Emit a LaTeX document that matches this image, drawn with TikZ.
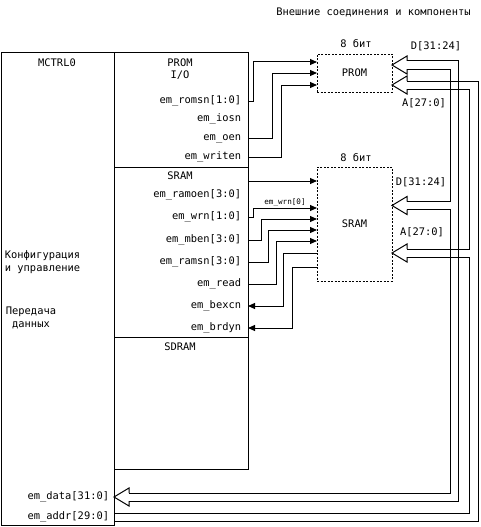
\documentclass[tikz,border=0pt]{standalone}
\usepackage{fontspec}
\setmonofont{DejaVu Sans Mono}
\usetikzlibrary{arrows.meta, calc}

\newcommand{\sigfont}{\fontsize{10.4}{12.5}\selectfont\ttfamily}
\newcommand{\tinyfont}{\fontsize{7.6}{9}\selectfont\ttfamily}
\tikzset{
  blk/.style={draw, line width=1pt, inner sep=0pt, outer sep=0pt, anchor=north west},
  mem/.style={draw, line width=0.8pt, dash pattern=on 2pt off 1.5pt, inner sep=0pt, outer sep=0pt, anchor=north west, font=\sigfont},
  lbl/.style={inner sep=0.75pt, font=\sigfont},
  sig/.style={lbl, anchor=east, text height=7.5pt, text depth=2.5pt},
  wire/.style={line width=1pt, -{Triangle[length=7pt,width=6pt]}},
  bus/.style={line width=1pt},
}

\begin{document}
\begin{tikzpicture}[x=1pt, y=1pt, yscale=-1, xscale=1]
\useasboundingbox (0,0) rectangle (480,527);
% контроллер
\node [blk, minimum width=113pt, minimum height=472pt] (mctrl) at (1,53) {};
\node [blk, minimum width=134pt, minimum height=114pt] (iobox) at (114,53) {};
\node [blk, minimum width=134pt, minimum height=170pt] (srambox) at (114,167) {};
\node [blk, minimum width=134pt, minimum height=132pt] (sdrambox) at (114,337) {};
% внешние микросхемы
\node [mem, minimum width=75pt, minimum height=38pt] (prom) at (317,54) {PROM};
\node [mem, minimum width=75pt, minimum height=114pt] (sram) at (317,167) {SRAM};
%Text
\node [lbl] (title) at (373.5,12) {Внешние соединения и компоненты};
\node [lbl] (mctrlname) at (57,63) {MCTRL0};
\node [lbl, align=left, anchor=west] (cfg) at (4,262) {Конфигурация\\и управление};
\node [lbl, align=center] (xfer) at (31,318) {Передача\\данных};
\node [lbl, align=center] (iotitle) at (180,69) {PROM\\I/O};
\node [sig] (romsn) at (242,101) {em\_romsn[1:0]};
\node [sig] (iosn) at (242,119) {em\_iosn};
\node [sig] (oen) at (242,138) {em\_oen};
\node [sig] (writen) at (242,157) {em\_writen};
\node [lbl] (sramtitle) at (180,176) {SRAM};
\node [sig] (ramoen) at (242,195) {em\_ramoen[3:0]};
\node [sig] (wrn) at (242,217) {em\_wrn[1:0]};
\node [sig] (mben) at (242,240) {em\_mben[3:0]};
\node [sig] (ramsn) at (242,262) {em\_ramsn[3:0]};
\node [sig] (read) at (242,284) {em\_read};
\node [sig] (bexcn) at (242,306) {em\_bexcn};
\node [sig] (brdyn) at (242,328) {em\_brdyn};
\node [lbl] (sdramtitle) at (180,347) {SDRAM};
\node [sig] (data) at (110,497) {em\_data[31:0]};
\node [sig] (addr) at (110,517) {em\_addr[29:0]};
\node [lbl] (promwidth) at (356,44) {8 бит};
\node [lbl] (sramwidth) at (356,158) {8 бит};
\node [lbl] (promDlbl) at (436,46) {D[31:24]};
\node [lbl] (promAlbl) at (424,103) {A[27:0]};
\node [lbl] (sramDlbl) at (421,182) {D[31:24]};
\node [lbl] (sramAlbl) at (422,232) {A[27:0]};
% сигналы PROM
\draw [wire] (romsn -| iobox.east) -- ++(5,0) |- (prom.west |- 0,62);
\draw [wire] (oen -| iobox.east) -- ++(24,0) |- (prom.west |- 0,73);
\draw [wire] (writen -| iobox.east) -- ++(33,0) |- (prom.west |- 0,85);
% сигналы SRAM
\draw [wire] (srambox.east |- 0,181) -- (sram.west |- 0,181);
\draw [wire] (wrn -| srambox.east) -- ++(5,0) |- (sram.west |- 0,208) node [pos=0.75, above, inner sep=1.5pt, font=\tinyfont] (wrnzero) {em\_wrn[0]};
\draw [wire] (mben -| srambox.east) -- ++(13,0) |- (sram.west |- 0,219);
\draw [wire] (ramsn -| srambox.east) -- ++(20,0) |- (sram.west |- 0,230);
\draw [wire] (read -| srambox.east) -- ++(28,0) |- (sram.west |- 0,241);
\draw [wire] (sram.west |- 0,253) -- ++(-34,0) |- (bexcn -| srambox.east);
\draw [wire] (sram.west |- 0,267) -- ++(-25,0) |- (brdyn -| srambox.east);
% шины
\coordinate (promDtip) at (prom.east |- 0,65);
\coordinate (promAtip) at (prom.east |- 0,85);
\coordinate (sramDtip) at (sram.east |- 0,205.5);
\coordinate (sramAtip) at (sram.east |- 0,253);
\coordinate (datatip) at (mctrl.east |- data);
\coordinate (addrpin) at (mctrl.east |- addr);
\foreach \tip in {promDtip, promAtip, sramDtip, sramAtip, datatip}
  \draw [bus] ($(\tip)+(15,-4)$) -- ++(0,-5) -- (\tip) -- ++(15,9) -- ++(0,-5);
% D[31:24]
\draw [bus] ($(promDtip)+(15,-4)$) -- ++(51,0) |- ($(datatip)+(15,4)$);
\draw [bus] ($(promDtip)+(15,4)$) -- ++(43,0) |- ($(sramDtip)+(15,-4)$);
\draw [bus] ($(sramDtip)+(15,4)$) -- ++(43,0) |- ($(datatip)+(15,-4)$);
% A[27:0]
\draw [bus] ($(promAtip)+(15,-4)$) -- ++(71,0) |- ($(addrpin)+(0,4)$);
\draw [bus] ($(promAtip)+(15,4)$) -- ++(62,0) |- ($(sramAtip)+(15,-4)$);
\draw [bus] ($(sramAtip)+(15,4)$) -- ++(62,0) |- ($(addrpin)+(0,-4)$);
\end{tikzpicture}
\end{document}
